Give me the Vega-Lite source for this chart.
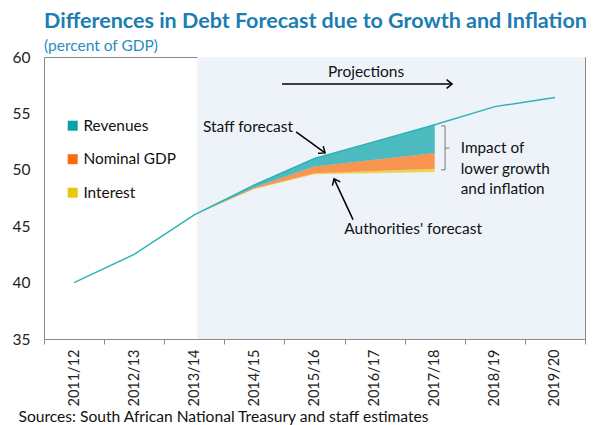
{
  "$schema": "https://vega.github.io/schema/vega-lite/v6.json",
  "width": 541,
  "height": 282,
  "autosize": {"type": "none"},
  "padding": {"left": 44, "top": 57, "right": 10, "bottom": 86},
  "background": "white",
  "title": {
    "text": "Differences in Debt Forecast due to Growth and Inflation",
    "subtitle": "(percent of GDP)",
    "anchor": "start",
    "frame": "group",
    "font": "Lato",
    "fontSize": 21.5,
    "fontWeight": "bold",
    "color": "#1B7DB3",
    "subtitleFont": "Lato",
    "subtitleFontSize": 15.5,
    "subtitleColor": "#2A8CC0",
    "subtitlePadding": 6,
    "offset": -4
  },
  "config": {
    "view": {"stroke": "#8a8a8a", "strokeWidth": 1},
    "font": "Lato",
    "axis": {"domainColor": "#8a8a8a", "grid": false, "labelFont": "Lato", "labelColor": "#222222"},
    "legend": {"symbolOpacity": 1}
  },
  "datasets": {
    "shade": [{"start": 2.05, "end": 8.5, "low": 35, "high": 60}],
    "line": [
      {"i": 0, "year": "2011/12", "debt": 40.0},
      {"i": 1, "year": "2012/13", "debt": 42.5},
      {"i": 2, "year": "2013/14", "debt": 46.0},
      {"i": 3, "year": "2014/15", "debt": 48.65},
      {"i": 4, "year": "2015/16", "debt": 51.0},
      {"i": 5, "year": "2016/17", "debt": 52.5},
      {"i": 6, "year": "2017/18", "debt": 54.0},
      {"i": 7, "year": "2018/19", "debt": 55.6},
      {"i": 8, "year": "2019/20", "debt": 56.4}
    ],
    "bands": [
      {"i": 2, "series": "Interest", "low": 46.0, "high": 46.0},
      {"i": 3, "series": "Interest", "low": 48.3, "high": 48.35},
      {"i": 4, "series": "Interest", "low": 49.6, "high": 49.7},
      {"i": 5, "series": "Interest", "low": 49.7, "high": 49.9},
      {"i": 6, "series": "Interest", "low": 49.8, "high": 50.1},
      {"i": 2, "series": "Nominal GDP", "low": 46.0, "high": 46.0},
      {"i": 3, "series": "Nominal GDP", "low": 48.35, "high": 48.45},
      {"i": 4, "series": "Nominal GDP", "low": 49.7, "high": 50.3},
      {"i": 5, "series": "Nominal GDP", "low": 49.9, "high": 50.9},
      {"i": 6, "series": "Nominal GDP", "low": 50.1, "high": 51.5},
      {"i": 2, "series": "Revenues", "low": 46.0, "high": 46.0},
      {"i": 3, "series": "Revenues", "low": 48.45, "high": 48.65},
      {"i": 4, "series": "Revenues", "low": 50.3, "high": 51.0},
      {"i": 5, "series": "Revenues", "low": 50.9, "high": 52.5},
      {"i": 6, "series": "Revenues", "low": 51.5, "high": 54.0}
    ],
    "bracket": [
      {"x": 6.172, "x2": 6.172, "y": 53.89, "y2": 50.0},
      {"x": 6.106, "x2": 6.172, "y": 53.89, "y2": 53.89},
      {"x": 6.106, "x2": 6.172, "y": 50.0, "y2": 50.0},
      {"x": 6.172, "x2": 6.244, "y": 51.92, "y2": 51.92}
    ],
    "arrows": [
      {"name": "proj", "x": 3.46, "y": 57.6, "x2": 6.289, "y2": 57.6},
      {"name": "staff", "x": 3.693, "y": 53.36, "x2": 4.176, "y2": 51.5},
      {"name": "auth", "x": 4.641, "y": 45.58, "x2": 4.325, "y2": 49.2}
    ],
    "labels": [
      {"x": 4.858, "y": 58.67, "text": "Projections"},
      {"x": 2.894, "y": 53.81, "text": "Staff forecast"},
      {"x": 5.64, "y": 44.78, "text": "Authorities' forecast"}
    ],
    "impact": [
      {"x": 6.433, "y": 51.92, "text": "Impact of\nlower growth\nand inflation"}
    ]
  },
  "layer": [
    {
      "data": {"name": "shade"},
      "mark": {"type": "rect", "color": "#EEF3F9"},
      "encoding": {
        "x": {
          "field": "start",
          "type": "quantitative",
          "scale": {"domain": [-0.5, 8.5], "nice": false, "zero": false},
          "axis": {
            "values": [-0.5, 0.5, 1.5, 2.5, 3.5, 4.5, 5.5, 6.5, 7.5, 8.5],
            "labelExpr": "['2011/12','2012/13','2013/14','2014/15','2015/16','2016/17','2017/18','2018/19','2019/20',''][datum.value + 0.5]",
            "labelAngle": -90,
            "labelAlign": "right",
            "labelBaseline": "middle",
            "labelOffset": 30,
            "labelPadding": 5,
            "labelFontSize": 14.5,
            "labelOverlap": false,
            "labelFlush": false,
            "labelBound": false,
            "ticks": true,
            "tickSize": 5,
            "tickColor": "#8a8a8a",
            "title": "Sources: South African National Treasury and staff estimates",
            "titleFont": "Lato",
            "titleFontSize": 15.6,
            "titleFontWeight": "normal",
            "titleColor": "#111111",
            "titleAnchor": "start",
            "titleAlign": "left",
            "titleBaseline": "alphabetic",
            "titleX": -26,
            "titleY": 82
          }
        },
        "x2": {"field": "end"},
        "y": {
          "field": "low",
          "type": "quantitative",
          "scale": {"domain": [35, 60], "nice": false, "zero": false},
          "axis": {
            "values": [35, 40, 45, 50, 55, 60],
            "ticks": false,
            "labelPadding": 14,
            "labelFontSize": 15.5,
            "title": null
          }
        },
        "y2": {"field": "high"}
      }
    },
    {
      "data": {"name": "bands"},
      "mark": {"type": "area", "opacity": 0.7},
      "encoding": {
        "x": {"field": "i", "type": "quantitative"},
        "y": {"field": "low", "type": "quantitative"},
        "y2": {"field": "high"},
        "color": {
          "field": "series",
          "type": "nominal",
          "scale": {"domain": ["Revenues", "Nominal GDP", "Interest"], "range": ["#06A3A7", "#FF6B0A", "#E8C90A"]},
          "legend": {
            "orient": "none",
            "legendX": 21,
            "legendY": 61,
            "title": null,
            "padding": 0,
            "symbolType": "square",
            "symbolSize": 100,
            "symbolStrokeWidth": 0,
            "labelFont": "Lato",
            "labelFontSize": 15.4,
            "labelColor": "#111111",
            "labelOffset": 3,
            "rowPadding": 16.5
          }
        }
      }
    },
    {
      "data": {"name": "line"},
      "mark": {"type": "line", "color": "#2DB3B7", "strokeWidth": 1.5},
      "encoding": {
        "x": {"field": "i", "type": "quantitative"},
        "y": {"field": "debt", "type": "quantitative"}
      }
    },
    {
      "data": {"name": "bracket"},
      "mark": {"type": "rule", "color": "#8a8a8a", "strokeWidth": 1.2},
      "encoding": {
        "x": {"field": "x", "type": "quantitative"},
        "x2": {"field": "x2"},
        "y": {"field": "y", "type": "quantitative"},
        "y2": {"field": "y2"}
      }
    },
    {
      "data": {"name": "arrows"},
      "mark": {"type": "rule", "color": "#000000", "strokeWidth": 1.5},
      "encoding": {
        "x": {"field": "x", "type": "quantitative"},
        "x2": {"field": "x2"},
        "y": {"field": "y", "type": "quantitative"},
        "y2": {"field": "y2"}
      }
    },
    {
      "data": {"name": "arrows"},
      "transform": [{"filter": "datum.name == 'proj'"}],
      "mark": {"type": "point", "shape": "M-1,-0.8L0,0L-1,0.8", "filled": false, "stroke": "#000000", "strokeWidth": 1.5, "size": 120, "angle": 0, "opacity": 1},
      "encoding": {
        "x": {"field": "x2", "type": "quantitative"},
        "y": {"field": "y2", "type": "quantitative"}
      }
    },
    {
      "data": {"name": "arrows"},
      "transform": [{"filter": "datum.name == 'staff'"}],
      "mark": {"type": "point", "shape": "M-1,-0.8L0,0L-1,0.8", "filled": false, "stroke": "#000000", "strokeWidth": 1.5, "size": 120, "angle": 36, "opacity": 1},
      "encoding": {
        "x": {"field": "x2", "type": "quantitative"},
        "y": {"field": "y2", "type": "quantitative"}
      }
    },
    {
      "data": {"name": "arrows"},
      "transform": [{"filter": "datum.name == 'auth'"}],
      "mark": {"type": "point", "shape": "M-1,-0.8L0,0L-1,0.8", "filled": false, "stroke": "#000000", "strokeWidth": 1.5, "size": 120, "angle": 245, "opacity": 1},
      "encoding": {
        "x": {"field": "x2", "type": "quantitative"},
        "y": {"field": "y2", "type": "quantitative"}
      }
    },
    {
      "data": {"name": "labels"},
      "mark": {"type": "text", "font": "Lato", "fontSize": 15.5, "color": "#111111", "align": "center", "baseline": "middle"},
      "encoding": {
        "x": {"field": "x", "type": "quantitative"},
        "y": {"field": "y", "type": "quantitative"},
        "text": {"field": "text"}
      }
    },
    {
      "data": {"name": "impact"},
      "mark": {"type": "text", "font": "Lato", "fontSize": 15.3, "color": "#111111", "align": "left", "baseline": "middle", "lineBreak": "\n", "lineHeight": 20.5},
      "encoding": {
        "x": {"field": "x", "type": "quantitative"},
        "y": {"field": "y", "type": "quantitative"},
        "text": {"field": "text"}
      }
    }
  ]
}
